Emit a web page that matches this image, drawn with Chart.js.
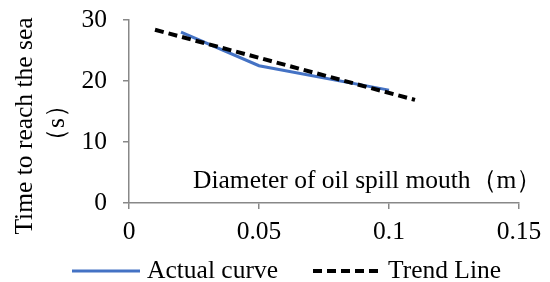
<!DOCTYPE html>
<html>
<head>
<meta charset="utf-8">
<script src="https://cdn.jsdelivr.net/npm/chart.js@4/dist/chart.umd.min.js"></script>
<style>
html,body{margin:0;padding:0;background:#fff;}
#wrap{width:550px;height:282px;position:relative;}
</style>
</head>
<body>
<div id="wrap"><canvas id="c"></canvas></div>
<script>
// ---- data ----
const actualX = [0.02, 0.05, 0.1];
const actualY = [28.0, 22.5, 18.5];
const trendX = [0.01, 0.11];
const trendY = [28.4, 16.9];
const xTicks = [0, 0.05, 0.1, 0.15];
const yTicks = [0, 10, 20, 30];
const seriesNames = ['Actual curve', 'Trend Line'];
const xTitle = 'Diameter of oil spill mouth（m）';
const yTitleLines = ['Time to reach the sea', '（s）'];

const FONT = '"Liberation Serif", "Times New Roman", serif';
const toPts = (xs, ys) => xs.map((x, i) => ({x: x, y: ys[i]}));

const titlesPlugin = {
  id: 'titles',
  afterDraw(chart) {
    const ctx = chart.ctx;
    const ca = chart.chartArea;
    ctx.save();
    ctx.fillStyle = '#000';
    // x title inside plot area
    ctx.font = '25.5px ' + FONT;
    ctx.textAlign = 'left';
    ctx.textBaseline = 'alphabetic';
    ctx.fillText(xTitle, ca.left + 64, ca.bottom - 15);
    // y title (rotated)
    ctx.font = '25.5px ' + FONT;
    ctx.textAlign = 'center';
    ctx.textBaseline = 'middle';
    const cx = [25, 57];
    const cy = [126, 123];
    yTitleLines.forEach((t, i) => {
      ctx.save();
      ctx.translate(cx[i], cy[i]);
      ctx.rotate(-Math.PI / 2);
      ctx.fillText(t, 0, 0);
      ctx.restore();
    });
    // legend
    ctx.font = '25.5px ' + FONT;
    ctx.textAlign = 'left';
    ctx.textBaseline = 'middle';
    const ly = 271;
    const starts = [72, 313];
    const dsIdx = [0, 1];
    dsIdx.forEach((di, k) => {
      const ds = chart.data.datasets[di];
      const x0 = starts[k];
      ctx.save();
      ctx.strokeStyle = ds.borderColor;
      ctx.lineWidth = ds.borderWidth;
      ctx.setLineDash(ds.borderDash || []);
      ctx.beginPath();
      ctx.moveTo(x0, ly);
      ctx.lineTo(x0 + 68, ly);
      ctx.stroke();
      ctx.restore();
      ctx.fillText(ds.label, x0 + 75, ly);
    });
    ctx.restore();
  }
};

new Chart(document.getElementById('c'), {
  type: 'scatter',
  data: {
    datasets: [
      {
        label: seriesNames[0],
        data: toPts(actualX, actualY),
        showLine: true,
        borderColor: '#4472C4',
        borderWidth: 3,
        pointRadius: 0,
        order: 2
      },
      {
        label: seriesNames[1],
        data: toPts(trendX, trendY),
        showLine: true,
        borderColor: '#000000',
        borderWidth: 4,
        borderDash: [9, 5],
        pointRadius: 0,
        order: 1
      }
    ]
  },
  options: {
    responsive: true,
    maintainAspectRatio: false,
    animation: false,
    devicePixelRatio: 1,
    layout: { padding: { top: 20, right: 31, bottom: 0, left: 0 } },
    plugins: { legend: { display: false }, tooltip: { enabled: false } },
    scales: {
      x: {
        type: 'linear',
        min: 0, max: 0.15,
        afterBuildTicks: (s) => { s.ticks = xTicks.map(v => ({value: v})); },
        afterFit: (s) => { s.height = 79; s.paddingLeft = 0; s.paddingRight = 0; },
        ticks: { color: '#000', font: { family: FONT, size: 25.5 }, padding: 8, maxRotation: 0,
                 callback: (v) => String(v) },
        grid: { drawOnChartArea: false, drawTicks: true, tickLength: 6, color: '#888', lineWidth: 1.5 },
        border: { color: '#888', width: 1.5 }
      },
      y: {
        type: 'linear',
        min: 0, max: 30,
        afterBuildTicks: (s) => { s.ticks = yTicks.map(v => ({value: v})); },
        afterFit: (s) => { s.width = 129; s.paddingTop = 0; s.paddingBottom = 0; },
        ticks: { color: '#000', font: { family: FONT, size: 25.5 }, padding: 16,
                 callback: (v) => String(v) },
        grid: { drawOnChartArea: false, drawTicks: true, tickLength: 6, color: '#888', lineWidth: 1.5 },
        border: { color: '#888', width: 1.5 }
      }
    }
  },
  plugins: [titlesPlugin]
});
</script>
</body>
</html>
